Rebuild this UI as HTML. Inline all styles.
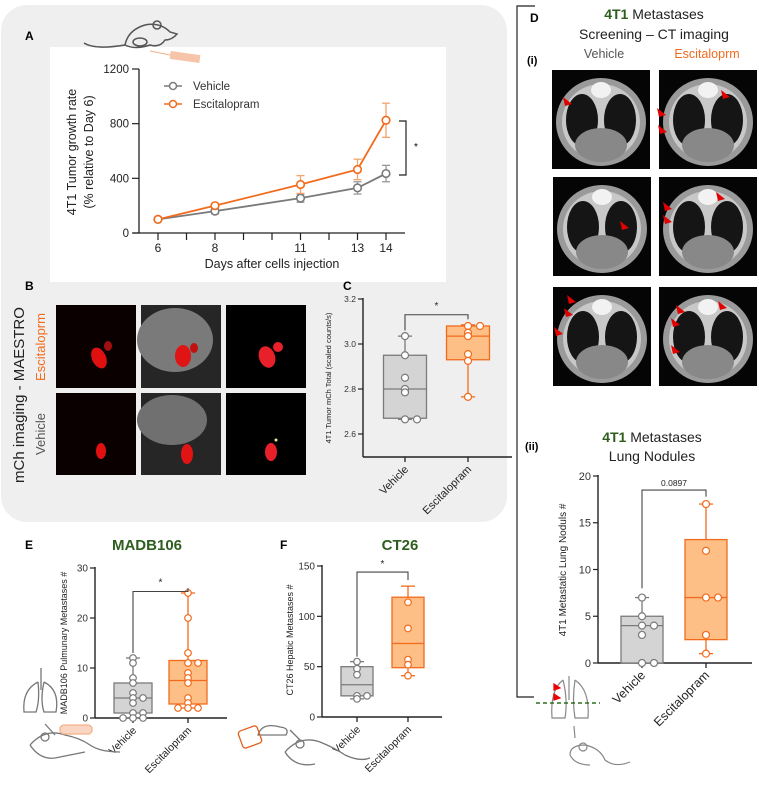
<!DOCTYPE html>
<html><head><meta charset="utf-8">
<style>
html,body{margin:0;padding:0;background:#fff;}
svg{display:block;font-family:"Liberation Sans",sans-serif;}
</style></head>
<body>
<svg id="fig" width="759" height="785" viewBox="0 0 759 785" xmlns="http://www.w3.org/2000/svg">
  <rect x="1" y="5" width="506" height="517" rx="26" fill="#efefef"/>
  <rect x="50" y="47" width="396" height="235" fill="#ffffff"/>
  <text x="25" y="40" font-size="12" font-weight="bold">A</text>
  <text x="25" y="290" font-size="12" font-weight="bold">B</text>
  <text x="343" y="290" font-size="12" font-weight="bold">C</text>

  <g fill="none" stroke="#555" stroke-width="1.5">
    <path d="M84 43 Q95 50 125 45 Q128 30 145 25 Q160 22 170 32 L177 34 Q172 40 165 40 Q160 48 150 45 Q135 50 125 45"/>
    <circle cx="157" cy="25" r="4"/>
    <ellipse cx="140" cy="42" rx="7" ry="4"/>
  </g>
  <g>
    <rect x="170" y="53" width="30" height="8" fill="#f6c4a8" transform="rotate(8 185 57)"/>
    <line x1="150" y1="51" x2="170" y2="55" stroke="#f4b08a" stroke-width="1"/>
  </g>

  <g id="chartA"></g>

  <g>
    <text transform="translate(24,395) rotate(-90)" text-anchor="middle" font-size="15" fill="#222">mCh imaging - MAESTRO</text>
    <text transform="translate(45,347) rotate(-90)" text-anchor="middle" font-size="13" fill="#f26b1d">Escitaloprm</text>
    <text transform="translate(45,434) rotate(-90)" text-anchor="middle" font-size="13" fill="#555">Vehicle</text>
    <rect x="56" y="305" width="80" height="83" fill="#0a0000"/>
    <ellipse cx="99" cy="358" rx="7" ry="11" fill="#e01010" transform="rotate(-25 99 358)"/>
    <ellipse cx="108" cy="346" rx="4" ry="5" fill="#a01010"/>
    <rect x="141" y="305" width="80" height="83" fill="#262626"/>
    <ellipse cx="175" cy="340" rx="38" ry="32" fill="#7a7a7a"/>
    <ellipse cx="183" cy="356" rx="8" ry="11" fill="#e01414"/>
    <ellipse cx="194" cy="348" rx="4" ry="5" fill="#c01010"/>
    <rect x="226" y="305" width="80" height="83" fill="#000"/>
    <ellipse cx="267" cy="357" rx="8" ry="11" fill="#e8202a" transform="rotate(-20 267 357)"/>
    <ellipse cx="278" cy="347" rx="5" ry="5" fill="#e8202a"/>
    <rect x="56" y="393" width="80" height="82" fill="#0a0000"/>
    <ellipse cx="101" cy="451" rx="5" ry="8" fill="#e01010"/>
    <rect x="141" y="393" width="80" height="82" fill="#262626"/>
    <ellipse cx="172" cy="420" rx="35" ry="25" fill="#707070"/>
    <ellipse cx="187" cy="454" rx="6" ry="10" fill="#e01414"/>
    <rect x="226" y="393" width="80" height="82" fill="#000"/>
    <ellipse cx="271" cy="452" rx="6" ry="9" fill="#e8202a"/>
    <circle cx="276" cy="440" r="1.5" fill="#ee8"/>
  </g>

  <g id="chartC"></g>

  <text x="25" y="549" font-size="12" font-weight="bold">E</text>
  <text x="147" y="550" font-size="15" font-weight="bold" fill="#2e5e1e" text-anchor="middle">MADB106</text>
  <text x="280" y="549" font-size="12" font-weight="bold">F</text>
  <text x="400" y="550" font-size="15" font-weight="bold" fill="#2e5e1e" text-anchor="middle">CT26</text>
  <g id="chartE"></g>
  <g id="chartF"></g>

  <g fill="none" stroke="#777" stroke-width="1.3">
    <path d="M38 682 Q22 690 24 712 L36 712 Q40 700 38 682 M44 682 Q60 690 56 712 L44 712 Q40 700 44 682 M41 668 L41 690"/>
    <line x1="55" y1="735" x2="45" y2="724"/>
    <path d="M30 745 Q45 728 65 735 Q80 738 90 745 Q100 752 120 752 M30 745 Q40 760 55 758 L85 752"/>
    <circle cx="45" cy="737" r="4"/>
    <rect x="60" y="725" width="32" height="9" rx="4" fill="#f8d6c2" stroke="#f4b08a"/>
  </g>
  <g fill="none" stroke="#777" stroke-width="1.3">
    <path d="M258 735 Q262 722 280 727 Q290 728 286 735 Z"/>
    <rect x="240" y="728" width="20" height="18" rx="3" stroke="#e0601c" transform="rotate(-20 250 737)"/>
    <path d="M285 752 Q300 735 320 742 Q335 748 345 755 Q360 762 370 758 M285 752 Q295 768 315 764"/>
    <circle cx="300" cy="744" r="4"/>
    <line x1="300" y1="740" x2="290" y2="730"/>
  </g>

  <g stroke="#222" stroke-width="1.2" fill="none">
    <path d="M535 6 L517 6 L517 697 L534 697"/>
  </g>
  <text x="530" y="22" font-size="12" font-weight="bold">D</text>
  <text x="654" y="19" font-size="14" text-anchor="middle"><tspan fill="#2e5e1e" font-weight="bold">4T1</tspan><tspan fill="#222"> Metastases</tspan></text>
  <text x="654" y="39" font-size="14" text-anchor="middle" fill="#222">Screening – CT imaging</text>
  <text x="527" y="64" font-size="11" font-weight="bold">(i)</text>
  <text x="604" y="58" font-size="12.5" text-anchor="middle" fill="#555">Vehicle</text>
  <text x="707" y="58" font-size="12.5" text-anchor="middle" fill="#f26b1d">Escitaloprm</text>
  <g id="ctImages"></g>
  <text x="652" y="442" font-size="14" text-anchor="middle"><tspan fill="#2e5e1e" font-weight="bold">4T1</tspan><tspan fill="#222"> Metastases</tspan></text>
  <text x="652" y="461" font-size="14" text-anchor="middle" fill="#222">Lung Nodules</text>
  <text x="525" y="450" font-size="11" font-weight="bold">(ii)</text>
  <g id="chartD"></g>
  <g fill="none" stroke="#888" stroke-width="1.2">
    <path d="M563 680 Q550 690 552 718 L565 718 Q568 700 563 680 M575 680 Q590 690 588 718 L575 718 Q572 700 575 680 M569 676 L569 700"/>
    <line x1="536" y1="703" x2="600" y2="703" stroke="#2e6e1e" stroke-dasharray="4,3" stroke-width="1.5"/>
    <path d="M560 688 l-6 -4 l0 6 z M560 698 l-6 -4 l0 6 z" fill="#e00" stroke="#e00"/>
    <line x1="575" y1="738" x2="574" y2="726"/>
    <path d="M570 755 Q570 745 585 745 Q600 748 605 760 Q615 768 630 762 M570 755 Q575 765 590 765"/>
    <circle cx="583" cy="747" r="4"/>
  </g>
</svg>

<script>
const NS='http://www.w3.org/2000/svg';
function mk(tag, attrs, parent){const e=document.createElementNS(NS,tag);for(const k in attrs)e.setAttribute(k,attrs[k]);parent.appendChild(e);return e;}
const ORANGE='#f26b1d', OFILL='#fdbf85', GRAY='#7a7a7a', GFILL='#d4d4d4';

/* ---------- Panel A data ---------- */
const aDays=[6,8,11,13,14];
const aAllTicks=[6,7,8,9,10,11,12,13,14];
const aYTicks=[0,400,800,1200];
const aVehMean=[100,160,255,330,435];
const aVehErr=[10,20,30,45,60];
const aEscMean=[100,200,355,465,825];
const aEscErr=[10,15,65,75,125];

(function(){
  const g=document.getElementById('chartA');
  const x=d=>158+(d-6)*28.5, y=v=>233-v*(164/1200);
  let e=mk('line',{x1:139,y1:69,x2:139,y2:233,stroke:'#222','stroke-width':1.3},g);
  
  
  e=mk('line',{x1:133,y1:233,x2:405,y2:233,stroke:'#222','stroke-width':1.3},g);
  
  
  aYTicks.forEach(v=>{
    mk('line',{x1:132,y1:y(v),x2:139,y2:y(v),stroke:'#222','stroke-width':1.2},g);
    const t=mk('text',{x:129,y:y(v)+4,'font-size':11.5,'text-anchor':'end',fill:'#222'},g);t.textContent=v;
    
    
  });
  aAllTicks.forEach(d=>{mk('line',{x1:x(d),y1:233,x2:x(d),y2:240,stroke:'#222','stroke-width':1.2},g);});
  aDays.forEach(d=>{const t=mk('text',{x:x(d),y:252,'font-size':12,'text-anchor':'middle',fill:'#222'},g);t.textContent=d;
    
    });
  let t=mk('text',{x:272,y:268,'font-size':12.5,'text-anchor':'middle',fill:'#222'},g);t.textContent='Days after cells injection';
  
  
  t=mk('text',{transform:'translate(76,152) rotate(-90)','font-size':12.5,'text-anchor':'middle',fill:'#222'},g);t.textContent='4T1 Tumor growth rate';
  
  
  t=mk('text',{transform:'translate(93,152) rotate(-90)','font-size':12.5,'text-anchor':'middle',fill:'#222'},g);t.textContent='(% relative to Day 6)';
  
  
  function series(mean,err,col,name){
    const pts=aDays.map((d,i)=>x(d)+','+y(mean[i])).join(' ');
    aDays.forEach((d,i)=>{
      const c=col===ORANGE?'#f5a36b':'#999';
      mk('line',{x1:x(d),y1:y(mean[i]+err[i]),x2:x(d),y2:y(mean[i]-err[i]),stroke:c,'stroke-width':1.3},g);
      mk('line',{x1:x(d)-4,y1:y(mean[i]+err[i]),x2:x(d)+4,y2:y(mean[i]+err[i]),stroke:c,'stroke-width':1.3},g);
      mk('line',{x1:x(d)-4,y1:y(mean[i]-err[i]),x2:x(d)+4,y2:y(mean[i]-err[i]),stroke:c,'stroke-width':1.3},g);
    });
    const l=mk('polyline',{points:pts,fill:'none',stroke:col,'stroke-width':1.8},g);
    
    
    aDays.forEach((d,i)=>{const c=mk('circle',{cx:x(d),cy:y(mean[i]),r:3.8,fill:'#fff',stroke:col,'stroke-width':1.6},g);
      
      });
  }
  series(aVehMean,aVehErr,GRAY,'vehicle');
  series(aEscMean,aEscErr,ORANGE,'escitalopram');
  [['Vehicle',GRAY,86],['Escitalopram',ORANGE,104]].forEach(l=>{
    mk('line',{x1:164,y1:l[2],x2:182,y2:l[2],stroke:l[1],'stroke-width':1.6},g);
    mk('circle',{cx:173,cy:l[2],r:3.5,fill:'#fff',stroke:l[1],'stroke-width':1.5},g);
    const tt=mk('text',{x:193,y:l[2]+4,'font-size':11.5,fill:'#333'},g);tt.textContent=l[0];
    
    
  });
  mk('path',{d:'M399 121 L406 121 L406 175 L399 175',fill:'none',stroke:'#222','stroke-width':1.2},g);
  t=mk('text',{x:416,y:150,'font-size':10,'text-anchor':'middle'},g);t.textContent='*';
  
  
})();

function boxplot(gid,cfg){
  const g=document.getElementById(gid);
  const y=v=>cfg.y0-(v-cfg.vmin)*(cfg.y0-cfg.y1)/(cfg.vmax-cfg.vmin);
  let e=mk('line',{x1:cfg.ax,y1:cfg.y1-1,x2:cfg.ax,y2:cfg.axBottom,stroke:'#222','stroke-width':1.4},g);
  
  
  e=mk('line',{x1:cfg.ax,y1:cfg.axBottom,x2:cfg.axRight,y2:cfg.axBottom,stroke:'#222','stroke-width':1.4},g);
  
  
  cfg.ticks.forEach(v=>{
    mk('line',{x1:cfg.ax-5,y1:y(v),x2:cfg.ax,y2:y(v),stroke:'#222','stroke-width':1.2},g);
    const t=mk('text',{x:cfg.ax-7,y:y(v)+cfg.fs*0.35,'font-size':cfg.fs,'text-anchor':'end',fill:'#333'},g);
    t.textContent=cfg.fmt?cfg.fmt(v):v;
    
    
  });
  const t=mk('text',{transform:'translate('+cfg.titleX+','+cfg.titleY+') rotate(-90)','font-size':cfg.tfs,'text-anchor':'middle',fill:'#222'},g);
  t.textContent=cfg.title;
  
  
  cfg.groups.forEach((gr,gi)=>{
    const cx=cfg.cx[gi], w=cfg.bw, col=gi?ORANGE:GRAY, fill=gi?OFILL:GFILL;
    mk('line',{x1:cx,y1:cfg.axBottom,x2:cx,y2:cfg.axBottom+5,stroke:'#222','stroke-width':1.3},g);
    const lab=mk('text',{transform:'translate('+(cx+4)+','+(cfg.axBottom+13)+') rotate(-45)','font-size':cfg.lfs,'text-anchor':'end',fill:'#222'},g);
    lab.textContent=gr;
    
    
    const s=cfg.stats[gi];
    mk('line',{x1:cx,y1:y(s[0]),x2:cx,y2:y(s[4]),stroke:col,'stroke-width':1.3},g);
    mk('line',{x1:cx-7,y1:y(s[0]),x2:cx+7,y2:y(s[0]),stroke:col,'stroke-width':1.3},g);
    mk('line',{x1:cx-7,y1:y(s[4]),x2:cx+7,y2:y(s[4]),stroke:col,'stroke-width':1.3},g);
    const b=mk('rect',{x:cx-w/2,y:y(s[3]),width:w,height:y(s[1])-y(s[3]),fill:fill,stroke:col,'stroke-width':1.3},g);
    
    
    mk('line',{x1:cx-w/2,y1:y(s[2]),x2:cx+w/2,y2:y(s[2]),stroke:col,'stroke-width':1.3},g);
    const pts=cfg.points[gi];
    pts.forEach((v,i)=>{
      let cnt=0;for(let j=0;j<i;j++) if(Math.abs(pts[j]-v)<cfg.tol) cnt++;
      const off=cnt===0?0:(cnt%2?1:-1)*Math.ceil(cnt/2)*cfg.jit;
      const c=mk('circle',{cx:cx+off,cy:y(v),r:cfg.r,fill:'#fff',stroke:col,'stroke-width':1.2},g);
      
      
    });
  });
  const by=y(cfg.bracket);
  mk('path',{d:'M'+cfg.cx[0]+' '+y(cfg.bracketL)+' L'+cfg.cx[0]+' '+by+' L'+cfg.cx[1]+' '+by+' L'+cfg.cx[1]+' '+y(cfg.bracketR),fill:'none',stroke:'#444','stroke-width':1.1},g);
  const st=mk('text',{x:(cfg.cx[0]+cfg.cx[1])/2,y:by-cfg.sigOff,'font-size':cfg.sigFs,'text-anchor':'middle',fill:'#222'},g);
  st.textContent=cfg.sig;
  
  
}

const groupNames=['Vehicle','Escitalopram'];

/* Panel C data */
const cTicks=[2.6,2.8,3.0,3.2];
const cVehStats=[2.665,2.67,2.80,2.95,3.035];
const cEscStats=[2.765,2.93,3.035,3.08,3.085];
const cVehPts=[3.035,2.95,2.85,2.80,2.785,2.665,2.665];
const cEscPts=[3.08,3.08,3.05,3.035,2.955,2.925,2.765];
boxplot('chartC',{y0:434,y1:299,vmin:2.6,vmax:3.2,ax:363,axBottom:457,axRight:512,ticks:cTicks,fmt:v=>v.toFixed(1),fs:8.5,
  title:'4T1 Tumor mCh Total (scaled counts/s)',titleX:331,titleY:378,tfs:7.5,groups:groupNames,cx:[405,468],bw:43,lfs:11,
  stats:[cVehStats,cEscStats],points:[cVehPts,cEscPts],tol:0.012,jit:12,r:3.5,bracket:3.13,bracketL:3.06,bracketR:3.11,sig:'*',sigOff:6,sigFs:10});

/* Panel E data */
const eTicks=[0,10,20,30];
const eVehStats=[0,1,4,7,12];
const eEscStats=[2,2.8,7.5,11.5,25];
const eVehPts=[12,11,8,7,5,4,4,3,1,1,0,0,0];
const eEscPts=[25,20,13,11,11,9,8,7,4,3,2,2,2];
boxplot('chartE',{y0:718,y1:568,vmin:0,vmax:30,ax:95,axBottom:718,axRight:227,ticks:eTicks,fs:10,
  title:'MADB106 Pulmunary Metastases #',titleX:67,titleY:643,tfs:9,groups:groupNames,cx:[133,188],bw:38,lfs:10.5,
  stats:[eVehStats,eEscStats],points:[eVehPts,eEscPts],tol:0.6,jit:10,r:3.3,bracket:25.3,bracketL:13,bracketR:26,sig:'*',sigOff:6,sigFs:10});

/* Panel F data */
const fTicks=[0,50,100,150];
const fVehStats=[18,21,32,50,55];
const fEscStats=[41,49,73,119,130];
const fVehPts=[55,48,42,21,21,18];
const fEscPts=[114,88,57,52,41];
boxplot('chartF',{y0:717,y1:566,vmin:0,vmax:150,ax:322,axBottom:717,axRight:442,ticks:fTicks,fs:10,
  title:'CT26 Hepatic Metastases #',titleX:293,titleY:640,tfs:9,groups:groupNames,cx:[357,408],bw:32,lfs:10.5,
  stats:[fVehStats,fEscStats],points:[fVehPts,fEscPts],tol:2,jit:10,r:3.3,bracket:144,bracketL:60,bracketR:136,sig:'*',sigOff:5,sigFs:10});

/* Panel D(ii) data */
const dTicks=[0,5,10,15,20];
const dVehStats=[0,0,4,5,7];
const dEscStats=[1,2.5,7,13.2,17];
const dVehPts=[7,5,4,4,3,0,0];
const dEscPts=[17,12,7,7,3,1];
boxplot('chartD',{y0:663,y1:476,vmin:0,vmax:20,ax:598,axBottom:663,axRight:752,ticks:dTicks,fs:11,
  title:'4T1 Metastatic Lung Noduls #',titleX:566,titleY:570,tfs:10,groups:groupNames,cx:[642,706],bw:42,lfs:12.5,
  stats:[dVehStats,dEscStats],points:[dVehPts,dEscPts],tol:0.3,jit:12,r:3.5,bracket:18.5,bracketL:8,bracketR:17.8,sig:'0.0897',sigOff:4,sigFs:8.5});

/* CT image panels (illustrative) */
const ctCells=[[552,70],[659,70],[553,177],[659,177],[553,287],[659,287]];
const ctArrows=[[[572,104]],[[730,97],[666,115],[667,132]],[[629,228]],[[725,199],[672,209],[672,222]],[[576,302],[573,315],[563,334]],[[685,312],[680,325],[680,352],[727,308]]];
(function(){
  const g=document.getElementById('ctImages');
  ctCells.forEach((c,i)=>{
    const x0=c[0], y0=c[1];
    const cell=mk('g',{},g);
    
    
    mk('rect',{x:x0,y:y0,width:98,height:99,fill:'#050505'},cell);
    mk('ellipse',{cx:x0+49,cy:y0+52,rx:45,ry:44,fill:'#9a9a9a'},cell);
    mk('ellipse',{cx:x0+49,cy:y0+52,rx:39,ry:38,fill:'#c8c8c8'},cell);
    mk('ellipse',{cx:x0+30,cy:y0+50,rx:16,ry:26,fill:'#151515'},cell);
    mk('ellipse',{cx:x0+68,cy:y0+50,rx:16,ry:26,fill:'#151515'},cell);
    mk('ellipse',{cx:x0+49,cy:y0+75,rx:26,ry:17,fill:'#888'},cell);
    mk('ellipse',{cx:x0+49,cy:y0+20,rx:10,ry:8,fill:'#f2f2f2'},cell);
  });
  ctArrows.forEach(list=>list.forEach(p=>{
    const a=mk('path',{d:'M'+p[0]+' '+p[1]+' l-9 -7 l2 9 z',fill:'#e00000'},g);
    
    
  }));
})();
</script>
</body></html>
